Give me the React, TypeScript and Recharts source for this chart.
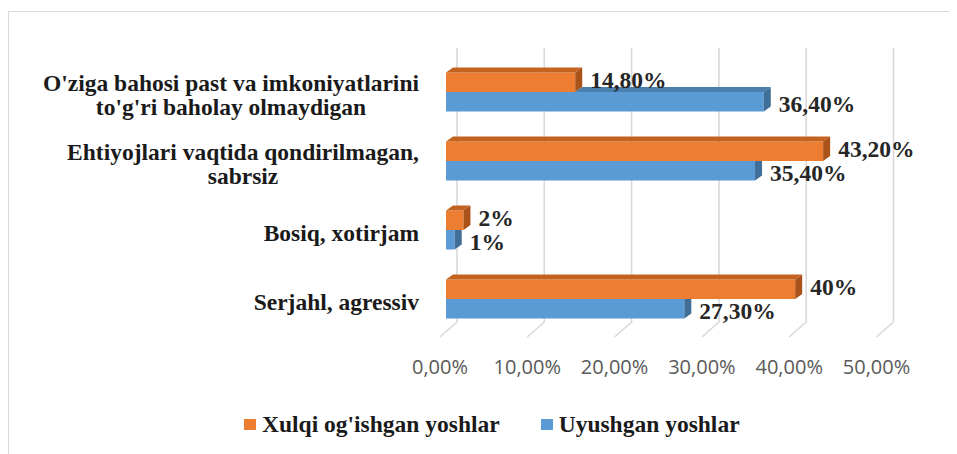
import React from "react";
import {
  BarChart,
  Bar,
  XAxis,
  YAxis,
  CartesianGrid,
  Legend,
  LabelList,
} from "recharts";

// ---------- data ----------
const categories = [
  "O'ziga bahosi past va imkoniyatlarini to'g'ri baholay olmaydigan",
  "Ehtiyojlari vaqtida qondirilmagan, sabrsiz",
  "Bosiq, xotirjam",
  "Serjahl, agressiv",
];
const deviantValues = [14.8, 43.2, 2, 40];
const organizedValues = [36.4, 35.4, 1, 27.3];
const seriesNames = ["Xulqi og'ishgan yoshlar", "Uyushgan yoshlar"];
const xTicks = [0, 10, 20, 30, 40, 50];

const data = categories.map((name, i) => ({
  name,
  deviant: deviantValues[i],
  organized: organizedValues[i],
}));

// ---------- styles ----------
const SERIF = "'Liberation Serif', 'Times New Roman', serif";
const SANS = "'Open Sans', 'Noto Sans', sans-serif";
const SERIF_SIZE = 23.5;
const COLORS: Record<string, { front: string; top: string; side: string }> = {
  deviant: { front: "#ED7D31", top: "#C4621F", side: "#A9521A" },
  organized: { front: "#5B9BD5", top: "#4C7EAD", side: "#3F6E99" },
};
const DEPTH_X = 7;
const DEPTH_Y = 5;
const GRID = "#d9d9d9";

// ---------- text measuring ----------
let ctx: CanvasRenderingContext2D | null = null;
function measure(text: string, font: string): number {
  if (!ctx) {
    const c = document.createElement("canvas");
    ctx = c.getContext("2d");
  }
  if (!ctx) return text.length * 11;
  ctx.font = font;
  return ctx.measureText(text).width;
}
function wrap(text: string, maxW: number, font: string): string[] {
  const words = text.split(" ");
  const lines: string[] = [];
  let cur = "";
  for (const w of words) {
    const cand = cur ? cur + " " + w : w;
    if (cur && measure(cand, font) > maxW) {
      lines.push(cur);
      cur = w;
    } else {
      cur = cand;
    }
  }
  if (cur) lines.push(cur);
  return lines;
}

const fmtTick = (v: number) => v.toFixed(2).replace(".", ",") + "%";
const fmtLabel = (v: number) =>
  Number.isInteger(v) ? `${v}%` : v.toFixed(2).replace(".", ",") + "%";

// ---------- custom pieces ----------
function CategoryTick(props: any) {
  const { x, y, payload } = props;
  const font = `bold ${SERIF_SIZE}px 'Liberation Serif'`;
  const lines = wrap(String(payload.value), 400, font);
  const maxW = Math.max(...lines.map((l) => measure(l, font)));
  const cx = x - maxW / 2;
  const lh = 24;
  const n = lines.length;
  return (
    <g>
      {lines.map((l, i) => (
        <text
          key={i}
          x={cx}
          y={y + (i - (n - 1) / 2) * lh + 3}
          textAnchor="middle"
          dominantBaseline="central"
          fontFamily={SERIF}
          fontWeight="bold"
          fontSize={SERIF_SIZE}
          fill="#1a1a1a"
        >
          {l}
        </text>
      ))}
    </g>
  );
}

function ValueTick(props: any) {
  const { x, y, payload } = props;
  return (
    <text
      x={x - 6}
      y={y + 40.5}
      textAnchor="middle"
      fontFamily={SANS}
      fontSize={20}
      fill="#595959"
    >
      {fmtTick(payload.value)}
    </text>
  );
}

function GridLine(props: any) {
  const { x1, y1, y2 } = props;
  const d = `M${x1 + 11},${y1 - 9.5} L${x1 + 11},${y2 - 11.5} L${x1 - 6},${y2 + 3.5}`;
  return <path d={d} stroke={GRID} strokeWidth={1.6} fill="none" />;
}

function Bar3D(props: any) {
  const { x, y, width, height, payload, dataKey } = props;
  if (width == null || height == null) return null;
  const c = COLORS[dataKey] || COLORS.deviant;
  const w = width;
  const h = height;
  let topStart = x;
  let rightFull = true;
  if (dataKey === "organized" && payload && payload.organized > 0) {
    const wo = payload.deviant * (w / payload.organized);
    topStart = x + Math.min(wo, w);
    if (wo >= w + DEPTH_X) rightFull = false;
  }
  const parts: React.ReactNode[] = [];
  parts.push(<rect key="f" x={x} y={y} width={w} height={h} fill={c.front} />);
  if (topStart < x + w) {
    parts.push(
      <polygon
        key="t"
        points={`${topStart},${y} ${topStart + DEPTH_X},${y - DEPTH_Y} ${x + w + DEPTH_X},${y - DEPTH_Y} ${x + w},${y}`}
        fill={c.top}
      />
    );
  }
  const rpts = rightFull
    ? `${x + w},${y} ${x + w + DEPTH_X},${y - DEPTH_Y} ${x + w + DEPTH_X},${y + h - DEPTH_Y} ${x + w},${y + h}`
    : `${x + w},${y} ${x + w + DEPTH_X},${y} ${x + w + DEPTH_X},${y + h - DEPTH_Y} ${x + w},${y + h}`;
  parts.push(<polygon key="r" points={rpts} fill={c.side} />);
  return <g>{parts}</g>;
}

function makeLabel(shift: number) {
  return function ValueLabel(props: any) {
    const { x, y, width, height, value } = props;
    return (
      <text
        x={x + width + 15}
        y={y + height / 2 + shift}
        textAnchor="start"
        dominantBaseline="central"
        fontFamily={SERIF}
        fontWeight="bold"
        fontSize={SERIF_SIZE}
        fill="#262626"
      >
        {fmtLabel(Number(value))}
      </text>
    );
  };
}
const DeviantLabel = makeLabel(-2);
const OrganizedLabel = makeLabel(2);

function LegendContent(props: any) {
  const payload = [...(props.payload || [])].sort(
    (a: any, b: any) => seriesNames.indexOf(a.value) - seriesNames.indexOf(b.value)
  );
  return (
    <div
      style={{
        height: 30,
        display: "flex",
        alignItems: "center",
        paddingLeft: 236,
        fontFamily: SERIF,
        fontWeight: "bold",
        fontSize: SERIF_SIZE,
        color: "#1a1a1a",
        whiteSpace: "nowrap",
      }}
    >
      {payload.map((p: any, i: number) => (
        <div
          key={i}
          style={{ display: "flex", alignItems: "center", marginRight: 41 }}
        >
          <span
            style={{
              display: "inline-block",
              width: 12,
              height: 11,
              background: p.color,
              marginRight: 6,
            }}
          />
          <span>{p.value}</span>
        </div>
      ))}
    </div>
  );
}

export default function App() {
  return (
    <div style={{ position: "relative", width: 949, height: 446, overflow: "hidden" }}>
      <div
        style={{
          position: "absolute",
          left: 0,
          top: 3,
          width: 949,
          height: 443,
          borderTop: `1px solid ${GRID}`,
          borderLeft: `1px solid ${GRID}`,
          boxSizing: "border-box",
        }}
      />
      <BarChart
        width={949}
        height={446}
        data={data}
        layout="vertical"
        margin={{ top: 49.5, right: 74.5, bottom: 15, left: 0 }}
        barGap={0}
        barSize={19.5}
        style={{ position: "absolute", left: 0, top: 0 }}
      >
        <CartesianGrid horizontal={false} vertical={GridLine as any} />
        <XAxis
          type="number"
          domain={[0, 50]}
          ticks={xTicks}
          interval={0}
          axisLine={false}
          tickLine={false}
          tickSize={0}
          tickMargin={0}
          height={75.5}
          tick={<ValueTick />}
        />
        <YAxis
          type="category"
          dataKey="name"
          width={438}
          axisLine={false}
          tickLine={false}
          tickSize={0}
          tickMargin={27}
          interval={0}
          tick={<CategoryTick />}
        />
        <Legend
          verticalAlign="bottom"
          wrapperStyle={{ left: 0, width: 949 }}
          content={<LegendContent />}
        />
        <Bar
          dataKey="deviant"
          name={seriesNames[0]}
          fill={COLORS.deviant.front}
          shape={<Bar3D />}
          isAnimationActive={false}
        >
          <LabelList dataKey="deviant" content={<DeviantLabel />} />
        </Bar>
        <Bar
          dataKey="organized"
          name={seriesNames[1]}
          fill={COLORS.organized.front}
          shape={<Bar3D />}
          isAnimationActive={false}
        >
          <LabelList dataKey="organized" content={<OrganizedLabel />} />
        </Bar>
      </BarChart>
    </div>
  );
}
